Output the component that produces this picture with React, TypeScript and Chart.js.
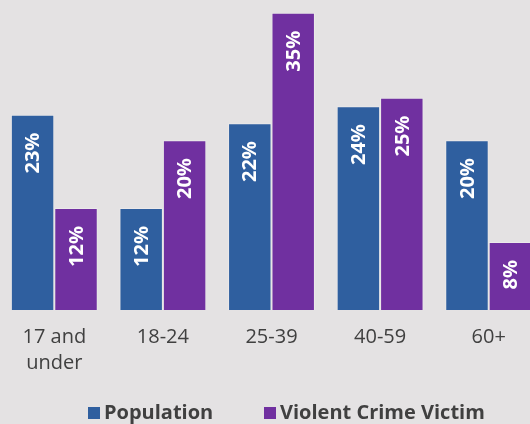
import React, { useEffect, useRef } from "react";
import { Chart, registerables } from "chart.js";

Chart.register(...registerables);

const categories: (string | string[])[] = [["17 and", "under"], "18-24", "25-39", "40-59", "60+"];
const populationValues = [23, 12, 22, 24, 20];
const victimValues = [12, 20, 35, 25, 8];
const seriesNames = ["Population", "Violent Crime Victim"];
const seriesColors = ["#2f5f9f", "#7030a0"];

const BG = "#e4e2e3";
const FONT = "'Open Sans', 'DejaVu Sans', sans-serif";

const valueLabelPlugin = {
  id: "valueLabels",
  afterDatasetsDraw(chart: any) {
    const ctx = chart.ctx;
    ctx.save();
    ctx.fillStyle = "#ffffff";
    ctx.font = `bold 20px ${FONT}`;
    ctx.textAlign = "right";
    ctx.textBaseline = "middle";
    chart.data.datasets.forEach((ds: any, di: number) => {
      const meta = chart.getDatasetMeta(di);
      meta.data.forEach((bar: any, i: number) => {
        ctx.save();
        ctx.translate(bar.x + 1, bar.y + 18);
        ctx.rotate(-Math.PI / 2);
        ctx.fillText(`${ds.data[i]}%`, 0, 0);
        ctx.restore();
      });
    });
    ctx.restore();
  },
};

const legendPlugin = {
  id: "customLegend",
  afterDraw(chart: any) {
    const ctx = chart.ctx;
    ctx.save();
    ctx.font = `bold 20px ${FONT}`;
    ctx.textBaseline = "middle";
    ctx.textAlign = "left";
    const y = 413;
    const starts = [88, 264];
    chart.data.datasets.forEach((ds: any, di: number) => {
      const x = starts[di];
      ctx.fillStyle = ds.backgroundColor;
      ctx.fillRect(x, y - 6, 12, 12);
      ctx.fillStyle = "#404040";
      ctx.fillText(ds.label, x + 16, y);
    });
    ctx.restore();
  },
};

export default function App() {
  const ref = useRef<HTMLCanvasElement>(null);
  useEffect(() => {
    if (!ref.current) return;
    const chart = new Chart(ref.current, {
      type: "bar",
      data: {
        labels: categories,
        datasets: [
          {
            label: seriesNames[0],
            data: populationValues,
            backgroundColor: seriesColors[0],
            borderColor: "rgba(255,255,255,0.25)",
            borderWidth: 1,
            barPercentage: 1,
            categoryPercentage: 0.8,
          },
          {
            label: seriesNames[1],
            data: victimValues,
            backgroundColor: seriesColors[1],
            borderColor: "rgba(255,255,255,0.25)",
            borderWidth: 1,
            barPercentage: 1,
            categoryPercentage: 0.8,
          },
        ],
      },
      options: {
        responsive: false,
        animation: false,
        devicePixelRatio: 1,
        layout: { padding: { left: 0, right: 0, top: 0, bottom: 34 } },
        plugins: {
          legend: { display: false },
          tooltip: { enabled: false },
        },
        scales: {
          x: {
            grid: { display: false, drawTicks: false },
            border: { display: false },
            ticks: {
              color: "#404040",
              font: { family: FONT, size: 20, lineHeight: 1.3 },
              padding: 14,
              maxRotation: 0,
              autoSkip: false,
            },
          },
          y: {
            display: false,
            min: 0,
            max: 36.5,
          },
        },
      },
      plugins: [valueLabelPlugin, legendPlugin],
    });
    return () => chart.destroy();
  }, []);
  return (
    <div
      style={{
        position: "fixed",
        left: 0,
        top: 0,
        width: 530,
        height: 424,
        overflow: "hidden",
        background: BG,
      }}
    >
      <canvas ref={ref} width={543} height={424} style={{ display: "block", width: 543, height: 424 }} />
    </div>
  );
}
